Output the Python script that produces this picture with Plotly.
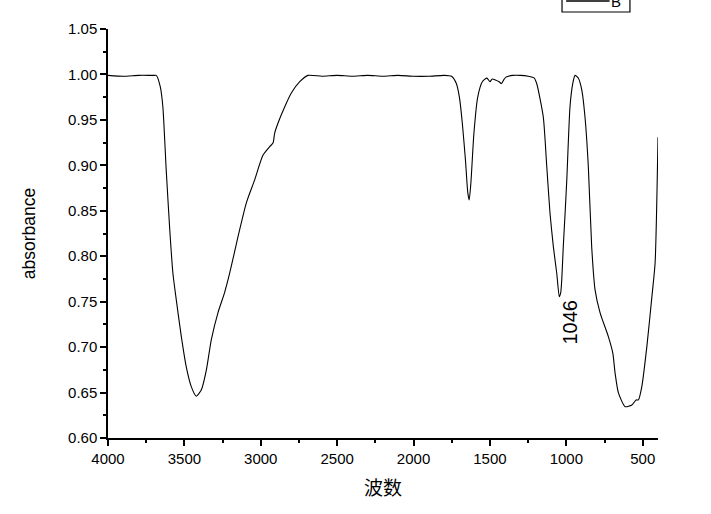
import plotly.graph_objects as go

# IR spectrum (wavenumber, absorbance)
wavenumber = [4000, 3900, 3800, 3720, 3695, 3684, 3658, 3641, 3619, 3597, 3575, 3553,
              3520, 3488, 3455, 3422, 3389, 3356, 3324, 3280, 3237, 3204, 3149,
              3094, 3040, 2986, 2942, 2920, 2909, 2887, 2843, 2800, 2745, 2691,
              2600, 2500, 2400, 2300, 2200, 2100, 2000, 1900, 1800, 1751,
              1720, 1700, 1680, 1660, 1645, 1636, 1625, 1605, 1580, 1550, 1520,
              1500, 1485, 1465, 1440, 1425, 1410, 1395, 1380, 1350, 1300, 1250,
              1210, 1194, 1151, 1128, 1107, 1085, 1063, 1046, 1037, 1030, 1020,
              1008, 997, 976, 958, 943, 921, 899, 878, 856, 834, 812, 779, 725,
              696, 681, 659, 615, 571, 543, 528, 506, 473, 440, 419, 400]
absorbance = [0.999, 0.998, 0.999, 0.999, 0.999, 0.999, 0.9865, 0.9645, 0.895, 0.8325, 0.781, 0.752,
              0.7115, 0.6785, 0.6565, 0.646, 0.653, 0.675, 0.708, 0.738, 0.760, 0.781, 0.8215,
              0.859, 0.884, 0.911, 0.9205, 0.9245, 0.9355, 0.9466, 0.9645, 0.9796, 0.992, 0.999,
              0.998, 0.999, 0.998, 0.999, 0.998, 0.999, 0.998, 0.998, 0.999, 0.998,
              0.990, 0.975, 0.945, 0.905, 0.870, 0.862, 0.880, 0.935, 0.975, 0.992, 0.996,
              0.992, 0.995, 0.994, 0.992, 0.990, 0.994, 0.997, 0.998, 0.999, 0.999, 0.998,
              0.996, 0.990, 0.9535, 0.8985, 0.8476, 0.8105, 0.7816, 0.7555, 0.7596, 0.774, 0.8105,
              0.8476, 0.884, 0.9645, 0.990, 0.999, 0.9958, 0.983, 0.9535, 0.8985, 0.8105, 0.763, 0.7376, 0.7116,
              0.6936, 0.6716, 0.6496, 0.6345, 0.6364, 0.6419, 0.6419, 0.6565, 0.7005, 0.7555, 0.7926, 0.931]

peak_label = "1046"
peak_x = 976
peak_y = 0.727
series_name = "B"

font = "Arial, Liberation Sans, sans-serif"

fig = go.Figure()
fig.add_trace(go.Scatter(x=wavenumber, y=absorbance, mode="lines", name=series_name,
                         line=dict(color="black", width=1.1, shape="spline", smoothing=0.6),
                         showlegend=False))

fig.add_annotation(x=peak_x, y=peak_y, text=peak_label, showarrow=False, textangle=-90,
                   font=dict(family=font, size=20, color="black"))

# legend box in the top right corner, cut off by the top edge like the original
fig.add_shape(type="rect", xref="paper", yref="paper", x0=0.8255, x1=0.949, y0=1.0416, y1=1.12,
              line=dict(color="black", width=1.2), fillcolor="white", layer="above")
fig.add_shape(type="line", xref="paper", yref="paper", x0=0.833, x1=0.912, y0=1.0685, y1=1.0685,
              line=dict(color="black", width=1.5))
fig.add_annotation(xref="paper", yref="paper", x=0.934, y=1.043, yanchor="bottom",
                   text=series_name, showarrow=False, borderpad=0,
                   font=dict(family=font, size=15, color="black"))

axis_style = dict(showline=True, linecolor="black", linewidth=1.5, ticks="outside",
                  ticklen=6, tickwidth=1.5, tickcolor="black", showgrid=False, zeroline=False,
                  mirror=False, tickfont=dict(family=font, size=15, color="black"))

fig.update_xaxes(range=[4000, 400], dtick=500, tick0=0,
                 minor=dict(ticks="outside", ticklen=3, tickcolor="black", dtick=250, showgrid=False),
                 title=dict(text="波数", font=dict(family="Noto Sans CJK SC", size=19, color="black"),
                            standoff=16),
                 **axis_style)
fig.update_yaxes(range=[0.60, 1.05], dtick=0.05, tick0=0.6, tickformat=".2f",
                 minor=dict(ticks="outside", ticklen=3, tickcolor="black", dtick=0.025, showgrid=False),
                 title=dict(text="absorbance", font=dict(family=font, size=17.5, color="black"),
                            standoff=28),
                 **axis_style)

fig.update_layout(
    width=711, height=514,
    margin=dict(l=108, r=53, t=29, b=76, autoexpand=False),
    plot_bgcolor="white", paper_bgcolor="white",
    showlegend=False,
)

# drop the page's default body margin so the figure fills the window
fig.write_html("out.html", config={"displayModeBar": False},
               post_script="document.body.style.margin = '0';")
